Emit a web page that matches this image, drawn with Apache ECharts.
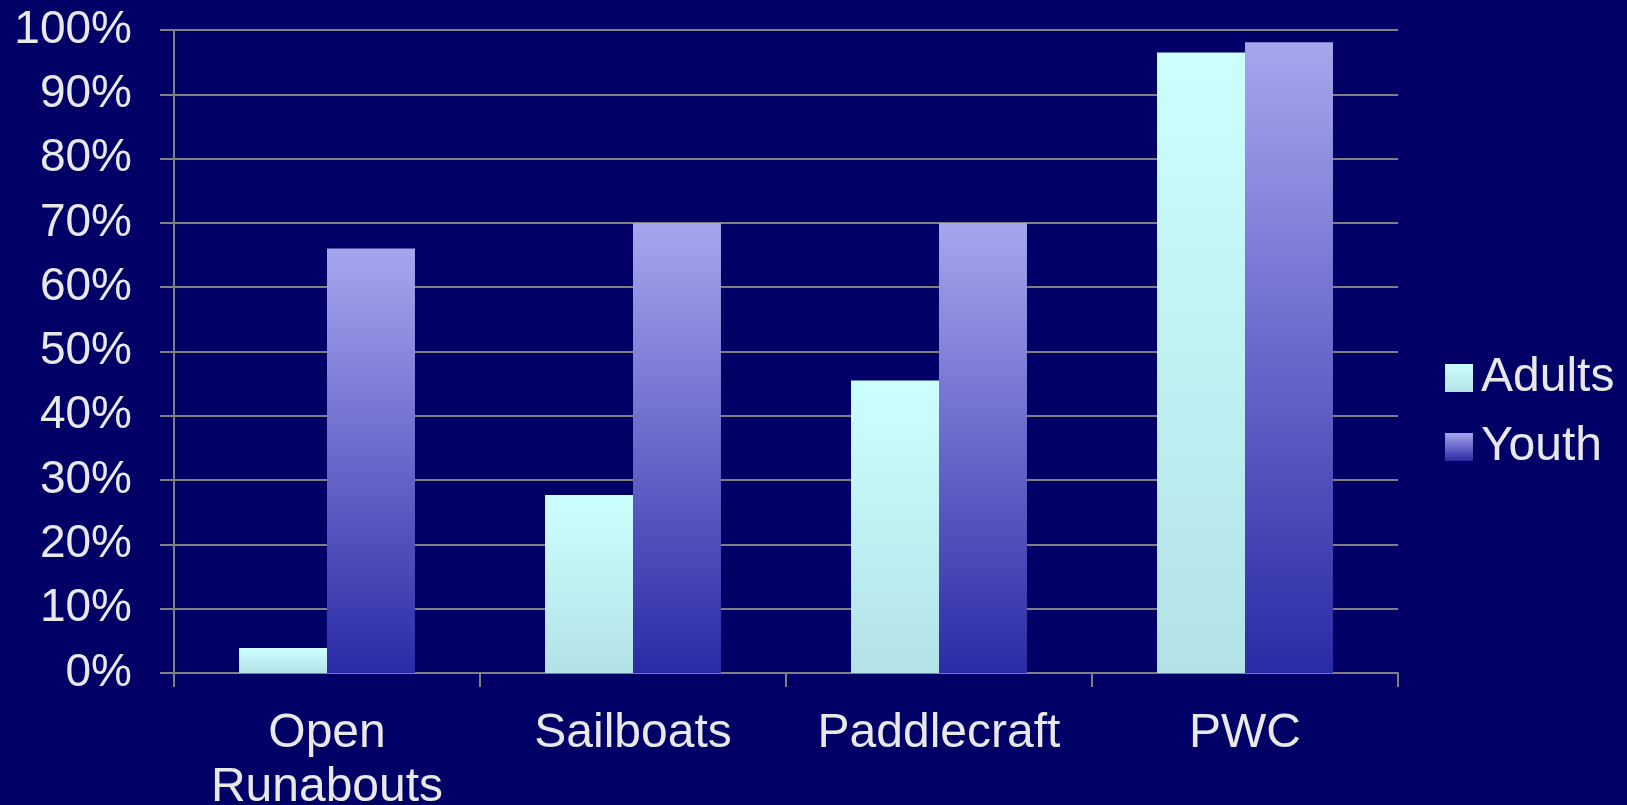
<!DOCTYPE html>
<html>
<head>
<meta charset="utf-8">
<style>
html,body{margin:0;padding:0;background:#000066;}
#chart{width:1627px;height:805px;}
</style>
<script src="https://cdn.jsdelivr.net/npm/echarts@6/dist/echarts.min.js"></script>
</head>
<body>
<div id="chart"></div>
<script>
const categories = ['Open\nRunabouts', 'Sailboats', 'Paddlecraft', 'PWC'];
const adults = [3.9, 27.7, 45.5, 96.5];
const youth = [66, 70, 70, 98.1];
const yTicks = { min: 0, max: 100, interval: 10 };

const chart = echarts.init(document.getElementById('chart'));
const textColor = '#e8e8e8';
const font = 'Liberation Sans, Arial, sans-serif';
const grad = (top, bottom) => new echarts.graphic.LinearGradient(0, 0, 0, 1, [
  { offset: 0, color: top }, { offset: 1, color: bottom }
]);
chart.setOption({
  backgroundColor: '#000066',
  animation: false,
  grid: { left: 174, right: 229, top: 30, bottom: 132, containLabel: false, outerBoundsMode: 'none' },
  legend: {
    orient: 'vertical',
    left: 1440,
    top: 347,
    itemWidth: 28,
    itemHeight: 28,
    itemGap: 17,
    icon: 'rect',
    textStyle: { color: textColor, fontSize: 48, fontFamily: font, lineHeight: 52, padding: [0, 0, 0, 3] },
    data: ['Adults', 'Youth']
  },
  xAxis: {
    type: 'category',
    data: categories,
    axisLine: { show: true, lineStyle: { color: '#808080', width: 2 } },
    axisTick: { show: true, interval: 0, length: 14, lineStyle: { color: '#808080', width: 2 } },
    axisLabel: { interval: 0, hideOverlap: false, color: textColor, fontSize: 48, fontFamily: font, lineHeight: 54, margin: 34 },
    splitLine: { show: false }
  },
  yAxis: {
    type: 'value',
    min: yTicks.min, max: yTicks.max, interval: yTicks.interval,
    axisLine: { show: true, lineStyle: { color: '#808080', width: 2 } },
    axisTick: { show: true, length: 14, lineStyle: { color: '#808080', width: 2 } },
    axisLabel: { color: textColor, fontSize: 46, fontFamily: font, margin: 42, formatter: '{value}%' },
    splitLine: { show: true, lineStyle: { color: '#808080', width: 2 } }
  },
  series: [
    {
      name: 'Adults', type: 'bar', data: adults,
      barGap: '0%', barCategoryGap: '42.5%',
      itemStyle: { color: grad('#ccffff', '#b2e2e6') }
    },
    {
      name: 'Youth', type: 'bar', data: youth,
      barGap: '0%', barCategoryGap: '42.5%',
      itemStyle: { color: grad('#a6a6ef', '#2a2aa6') }
    }
  ]
});
</script>
</body>
</html>
